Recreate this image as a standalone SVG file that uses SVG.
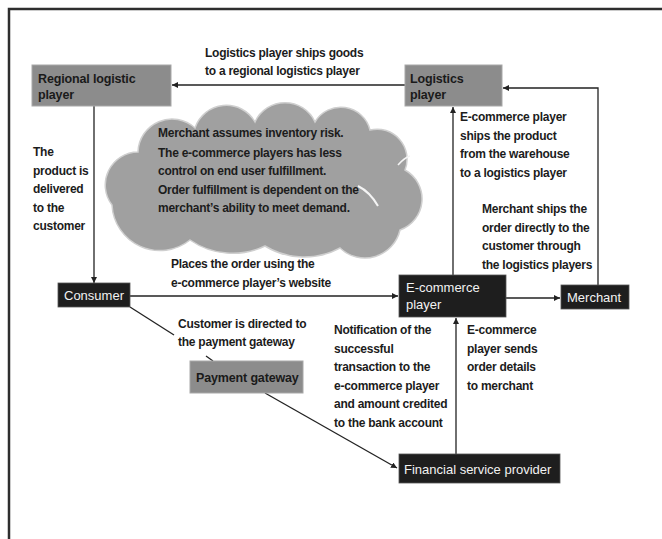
<svg xmlns="http://www.w3.org/2000/svg" width="662" height="539" viewBox="0 0 662 539">
<defs>
<style>
.frame{fill:none;stroke:#2e2e2e;stroke-width:2.5}
.lbl{font-family:"Liberation Sans",Arial,sans-serif;font-size:12px;font-weight:bold;letter-spacing:-0.25px;fill:#1c1c1c}
.gbox{fill:#8c8c8c;stroke:#a8a8a8;stroke-width:1}
.bbox{fill:#1e1e1e;stroke:#555;stroke-width:0.8}
.gtxt{font-family:"Liberation Sans",Arial,sans-serif;font-size:12.5px;font-weight:bold;letter-spacing:-0.15px;fill:#1a1a1a}
.wtxt{font-family:"Liberation Sans",Arial,sans-serif;font-size:13px;fill:#f2f2f2}
.conn{fill:none;stroke:#222;stroke-width:1.3}
.arr{marker-end:url(#ah)}
</style>
<marker id="ah" markerWidth="8" markerHeight="8" refX="6" refY="3" orient="auto" markerUnits="userSpaceOnUse">
<path d="M0,0 L6,3 L0,6 Z" fill="#222"/>
</marker>
</defs>
<rect width="662" height="539" fill="#ffffff"/>
<path class="frame" d="M9,539 V9 H662"/>

<g id="cloud">
<path d="M112,205 A33,33 0 0 1 138,152 A34,34 0 0 1 195,128 A33,33 0 0 1 255,122 A33,33 0 0 1 315,122 A30,30 0 0 1 370,130 A30,30 0 0 1 405,170 A33,33 0 0 1 400,230 A36,36 0 0 1 340,248 A75,75 0 0 1 265,246 A75,75 0 0 1 190,240 A48,48 0 0 1 112,205 Z" fill="#a0a0a0" stroke="#cfcfcf" stroke-width="1.5"/>
<path d="M398,165 Q404,158 410,156" fill="none" stroke="#f4f4f4" stroke-width="1.5"/>
<path d="M358,186 Q370,192 378,206" fill="none" stroke="#f4f4f4" stroke-width="2"/>
<text class="lbl" x="158" y="137">Merchant assumes inventory risk.</text>
<text class="lbl" x="158" y="157">The e-commerce players has less</text>
<text class="lbl" x="158" y="175">control on end user fulfillment.</text>
<text class="lbl" x="158" y="194">Order fulfillment is dependent on the</text>
<text class="lbl" x="158" y="212">merchant’s ability to meet demand.</text>
</g>

<g id="connectors">
<line class="conn arr" x1="405" y1="85" x2="172" y2="85"/>
<line class="conn arr" x1="94" y1="106" x2="94" y2="283"/>
<line class="conn arr" x1="130" y1="296" x2="398" y2="296"/>
<line class="conn arr" x1="506" y1="298" x2="560" y2="298"/>
<line class="conn arr" x1="453" y1="275" x2="453" y2="107"/>
<polyline class="conn arr" points="598,285 598,88 503,88"/>
<line class="conn" x1="130" y1="307" x2="174" y2="335"/>
<line class="conn" x1="206" y1="356" x2="213" y2="361"/>
<line class="conn arr" x1="265" y1="393" x2="397" y2="468"/>
<line class="conn arr" x1="456" y1="454" x2="456" y2="318"/>
</g>

<g id="labels">
<text class="lbl" x="205" y="57">Logistics player ships goods</text>
<text class="lbl" x="205" y="75">to a regional logistics player</text>
<text class="lbl" x="33" y="156">The</text>
<text class="lbl" x="33" y="174.5">product is</text>
<text class="lbl" x="33" y="193">delivered</text>
<text class="lbl" x="33" y="211.5">to the</text>
<text class="lbl" x="33" y="230">customer</text>
<text class="lbl" x="171" y="268">Places the order using the</text>
<text class="lbl" x="171" y="287">e-commerce player’s website</text>
<text class="lbl" x="178" y="328">Customer is directed to</text>
<text class="lbl" x="178" y="346">the payment gateway</text>
<text class="lbl" x="460" y="121">E-commerce player</text>
<text class="lbl" x="460" y="139.5">ships the product</text>
<text class="lbl" x="460" y="158">from the warehouse</text>
<text class="lbl" x="460" y="177">to a logistics player</text>
<text class="lbl" x="482" y="213">Merchant ships the</text>
<text class="lbl" x="482" y="232">order directly to the</text>
<text class="lbl" x="482" y="250">customer through</text>
<text class="lbl" x="482" y="269">the logistics players</text>
<text class="lbl" x="334" y="334">Notification of the</text>
<text class="lbl" x="334" y="353">successful</text>
<text class="lbl" x="334" y="371">transaction to the</text>
<text class="lbl" x="334" y="390">e-commerce player</text>
<text class="lbl" x="334" y="408">and amount credited</text>
<text class="lbl" x="334" y="427">to the bank account</text>
<text class="lbl" x="467" y="334">E-commerce</text>
<text class="lbl" x="467" y="353">player sends</text>
<text class="lbl" x="467" y="371">order details</text>
<text class="lbl" x="467" y="390">to merchant</text>
</g>

<g id="regional">
<rect class="gbox" x="32" y="65" width="139" height="41"/>
<text class="gtxt" x="38" y="83">Regional logistic</text>
<text class="gtxt" x="38" y="99">player</text>
</g>
<g id="logistics">
<rect class="gbox" x="405" y="65" width="97" height="41"/>
<text class="gtxt" x="410" y="83">Logistics</text>
<text class="gtxt" x="410" y="99">player</text>
</g>
<g id="consumer">
<rect class="bbox" x="58" y="283" width="72" height="24"/>
<text class="wtxt" x="64" y="300">Consumer</text>
</g>
<g id="ecommerce">
<rect class="bbox" x="399" y="275" width="107" height="42"/>
<text class="wtxt" x="406" y="292">E-commerce</text>
<text class="wtxt" x="406" y="309">player</text>
</g>
<g id="merchant">
<rect class="bbox" x="561" y="285" width="68" height="24"/>
<text class="wtxt" x="567" y="302">Merchant</text>
</g>
<g id="payment">
<rect class="gbox" x="190" y="361" width="113" height="32"/>
<text class="gtxt" x="196" y="382">Payment gateway</text>
</g>
<g id="financial">
<rect class="bbox" x="399" y="454" width="161" height="29"/>
<text class="wtxt" x="404" y="474">Financial service provider</text>
</g>
</svg>
